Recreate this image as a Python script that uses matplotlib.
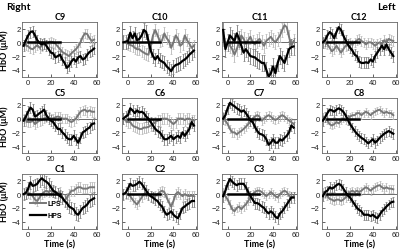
import numpy as np
import matplotlib
matplotlib.use('Agg')
import matplotlib.pyplot as plt

# time axis (s)
time = [-4, -2, 0, 2, 4, 6, 8, 10, 12, 14, 16, 18, 20, 22, 24, 26,
        28, 30, 32, 34, 36, 38, 40, 42, 44, 46, 48, 50, 52, 54, 56, 58]

titles = ['C9', 'C10', 'C11', 'C12',
          'C5', 'C6', 'C7', 'C8',
          'C1', 'C2', 'C3', 'C4']

# HbO (uM), high performers
hps = {
    'C9':  [-0.5, 0.3, 1.0, 1.5, 1.6, 1.0, 0.3, -0.1, -0.3, -0.1, -0.5, -1.0, -1.5, -1.6, -2.2, -2.0,
            -1.8, -2.5, -3.0, -3.7, -3.4, -2.8, -2.4, -2.8, -2.2, -2.0, -2.5, -2.3, -1.8, -1.4, -1.2, -0.9],
    'C10': [0.0, 0.1, 0.2, 1.4, 0.6, 1.3, 0.3, 0.5, 1.0, 1.8, 1.5, 0.2, -1.2, -2.0, -2.5, -2.0,
            -2.6, -2.8, -3.0, -3.5, -3.8, -4.2, -3.6, -3.3, -3.2, -3.0, -2.7, -2.5, -2.2, -1.8, -1.5, -1.2],
    'C11': [1.8, -1.0, 0.0, 1.0, 0.6, 0.2, 1.3, 0.5, -0.5, -1.5, -1.0, -1.5, -2.0, -2.1, -2.2, -2.5,
            -2.7, -3.0, -3.0, -4.0, -5.0, -4.5, -3.5, -4.5, -3.0, -2.0, -2.5, -3.0, -2.0, -1.0, -0.7, -0.6],
    'C12': [0.0, 0.3, 1.0, 1.5, 1.2, 0.6, 1.5, 2.2, 1.8, 1.0, 0.3, -0.3, -0.8, -1.2, -1.8, -2.0,
            -2.8, -3.0, -3.0, -2.9, -3.0, -2.5, -2.8, -2.0, -1.5, -1.0, -0.5, -1.0, -0.3, -1.0, -1.5, -2.0],
    'C5':  [-0.3, 0.3, 1.0, 1.6, 1.3, 0.3, 0.5, 0.8, 1.0, 1.3, 0.5, 0.0, -0.3, -0.5, -1.0, -1.5,
            -1.5, -2.0, -2.3, -2.8, -3.0, -3.0, -2.5, -3.0, -3.5, -2.8, -2.0, -1.8, -1.5, -1.3, -0.8, -0.7],
    'C6':  [0.0, 0.3, 0.5, 1.5, 1.2, 0.8, 1.2, 0.9, 1.0, 0.8, 0.3, 0.0, -0.5, -1.0, -1.5, -1.8,
            -2.0, -2.5, -3.0, -3.0, -2.8, -2.5, -3.0, -2.7, -2.5, -2.8, -2.0, -2.5, -2.0, -1.5, -0.5, -1.0],
    'C7':  [0.0, 0.5, 1.5, 2.3, 2.0, 1.8, 1.5, 1.3, 1.0, 1.2, 0.8, 0.3, -0.3, -0.5, -1.2, -1.8,
            -2.2, -2.3, -2.5, -3.0, -3.8, -3.5, -3.0, -3.5, -3.5, -3.0, -3.2, -2.8, -2.5, -2.0, -1.0, -1.3],
    'C8':  [-0.3, 0.2, 0.8, 1.3, 1.2, 1.0, 1.3, 1.5, 1.3, 1.0, 0.5, -0.2, -0.8, -1.3, -1.8, -2.2,
            -2.5, -2.8, -3.0, -3.3, -3.6, -3.3, -3.0, -3.5, -3.2, -2.8, -2.5, -2.2, -2.0, -1.8, -2.0, -2.2],
    'C1':  [0.0, 0.2, 0.8, 1.7, 1.2, 1.3, 1.5, 2.0, 2.3, 2.0, 1.8, 1.5, 1.0, 0.5, 0.3, 0.0,
            -0.3, -0.5, -1.0, -1.3, -1.8, -2.0, -2.2, -2.8, -3.0, -2.5, -2.0, -1.8, -1.5, -1.0, -0.8, -0.6],
    'C2':  [0.0, 0.2, 0.8, 1.5, 1.2, 1.3, 1.5, 1.8, 1.5, 1.0, 0.5, 0.0, -0.3, -0.5, -0.8, -1.0,
            -1.5, -1.8, -2.5, -3.0, -2.8, -2.5, -3.0, -3.3, -3.5, -2.8, -2.0, -1.8, -1.5, -1.3, -1.0, -1.0],
    'C3':  [-0.3, 0.5, 1.5, 2.2, 1.8, 1.5, 1.3, 1.5, 1.5, 1.5, 1.0, 0.3, -0.3, -0.8, -1.3, -1.3,
            -1.5, -1.8, -2.0, -2.5, -2.8, -2.5, -2.8, -3.3, -3.5, -2.8, -2.5, -2.0, -1.5, -1.0, -0.5, -0.5],
    'C4':  [-0.3, 0.3, 0.5, 1.0, 0.8, 1.0, 1.3, 1.5, 1.3, 0.8, 0.3, -0.2, -0.5, -1.0, -1.5, -2.0,
            -2.3, -2.5, -3.0, -3.0, -3.0, -3.2, -3.0, -3.3, -3.5, -3.0, -2.5, -2.2, -1.8, -1.5, -1.2, -1.1],
}

# HbO (uM), low performers
lps = {
    'C9':  [-0.3, -0.4, -0.6, -0.9, -1.0, -0.7, -0.4, -0.8, -0.5, -0.2, -0.3, 0.0, 0.1, 0.0, -0.2, -0.6,
            -1.0, -1.4, -1.6, -1.8, -2.0, -1.6, -1.3, -1.0, -0.6, 0.0, 0.8, 1.3, 1.2, 0.6, 0.2, 0.4],
    'C10': [0.0, -0.1, -0.2, -0.4, -0.5, -0.8, -1.0, -1.0, -1.3, -1.5, -1.7, -1.8, -0.5, 1.0, 1.8, 1.0,
            0.2, 0.3, 1.3, 0.6, 0.2, -0.8, 0.0, 1.0, 0.5, -0.5, -0.2, 1.0, 0.3, -0.2, -0.8, -0.5],
    'C11': [0.5, -0.3, 0.0, -0.5, -1.0, -1.8, -1.0, 0.0, 1.0, 0.5, -0.2, 0.3, 0.8, 0.0, -0.3, 0.2,
            0.5, 0.0, -0.5, 0.2, 0.5, 0.8, 0.3, 0.0, 0.5, 1.0, 1.8, 2.5, 2.2, 0.8, -0.5, 0.2],
    'C12': [0.0, -0.1, -0.3, -0.8, -1.3, -1.0, -0.5, -1.0, -1.5, -1.0, -0.5, -0.3, 0.0, -0.3, 0.0, 0.3,
            0.5, 0.2, 0.0, -0.3, 0.0, 0.0, -0.2, -0.5, -0.2, 0.0, -0.3, 0.3, 0.0, 0.5, 0.3, 0.2],
    'C5':  [0.0, -0.3, -0.5, -0.5, -0.3, -0.8, -0.5, -0.3, -0.2, 0.0, 0.2, 0.2, 0.0, 0.0, 0.2, 0.3,
            0.2, 0.0, 0.0, 0.0, -0.3, -0.5, -0.3, 0.0, 0.5, 1.0, 1.2, 1.3, 1.0, 1.2, 1.0, 1.0],
    'C6':  [0.0, -0.3, -0.5, -0.5, -1.0, -1.2, -1.3, -1.5, -1.5, -1.3, -1.3, -1.2, -1.0, -0.8, -0.5, -0.3,
            -0.2, 0.0, 0.0, 0.0, -0.2, -0.5, -0.8, -0.5, 0.0, 0.0, 0.0, -0.2, 0.0, 0.0, -0.2, -0.3],
    'C7':  [0.3, -0.3, -0.8, -1.5, -2.0, -2.0, -2.3, -2.0, -1.8, -1.5, -1.2, -0.8, -0.5, 0.0, 0.3, 0.5,
            0.3, -0.3, 0.0, 0.3, 0.5, 0.3, 0.0, -0.2, 0.0, 0.3, 0.5, 0.3, 0.0, -0.3, -0.5, -0.8],
    'C8':  [0.3, 0.0, -0.3, -0.8, -1.0, -0.8, -0.5, -0.7, -0.3, 0.0, -0.3, 0.0, 0.3, 0.5, 0.5, 0.8,
            0.8, 0.5, 0.8, 1.0, 0.8, 0.5, 0.8, 1.0, 1.2, 1.3, 1.0, 0.8, 1.0, 0.8, 0.8, 0.5],
    'C1':  [0.0, 0.0, 0.2, 0.0, -0.3, -0.8, -1.0, -0.5, 0.0, 0.3, 0.5, 0.3, 0.5, 0.3, 0.3, 0.2,
            0.3, -0.5, -1.0, -0.5, 0.0, 0.5, 0.5, 0.8, 1.0, 1.0, 0.8, 0.8, 0.8, 1.0, 1.0, 1.0],
    'C2':  [0.0, 0.0, 0.0, -0.3, -0.8, -1.2, -1.5, -1.0, -0.5, 0.0, 0.2, 0.0, -0.3, -0.5, -0.3, 0.0,
            0.3, 0.5, 0.3, -0.5, -1.2, -1.8, -1.0, 0.0, 0.3, 0.0, -0.3, 0.0, -0.2, -0.3, -0.2, -0.3],
    'C3':  [0.3, -0.3, -0.8, -1.5, -2.2, -2.5, -2.0, -1.8, -2.2, -1.8, -1.5, -1.0, -0.5, 0.0, 0.3, 0.5,
            0.5, 0.3, 0.0, -0.3, 0.0, 0.3, 0.0, -0.3, -0.5, 0.0, 0.3, 0.5, 0.3, -0.2, -0.5, -0.3],
    'C4':  [0.3, 0.0, -0.3, -0.7, -0.8, -1.0, -0.8, -0.8, -1.0, -0.8, -0.5, 0.0, 0.3, 0.5, 0.3, 0.5,
            0.3, 0.5, 0.8, 1.0, 0.8, 0.5, 0.8, 1.0, 1.2, 1.3, 1.0, 0.8, 1.0, 0.8, 0.8, 0.7],
}

# standard error (uM), per channel
hps_err = {'C9': 0.8, 'C10': 1.0, 'C11': 1.2, 'C12': 0.8, 'C5': 0.8, 'C6': 0.8,
           'C7': 0.8, 'C8': 0.7, 'C1': 0.9, 'C2': 0.8, 'C3': 0.8, 'C4': 0.7}
lps_err = {'C9': 0.7, 'C10': 0.9, 'C11': 1.0, 'C12': 0.7, 'C5': 0.7, 'C6': 0.8,
           'C7': 0.6, 'C8': 0.5, 'C1': 0.7, 'C2': 0.7, 'C3': 0.6, 'C4': 0.6}

stim_on, stim_off = 0, 28

W, H = 402, 253
fig = plt.figure(figsize=(W / 100, H / 100), dpi=100)

lefts = [22.5, 122.3, 222, 321.7]
tops = [22.7, 99, 174.5]
aw, ah = 75, 55

tfont = dict(family='Lato', weight='bold', size=6.5)

for i, name in enumerate(titles):
    r, c = divmod(i, 4)
    ax = fig.add_axes([lefts[c] / W, 1 - (tops[r] + ah) / H, aw / W, ah / H])
    ax.axhline(0, color='#555555', lw=0.6, zorder=1)
    ax.errorbar(time, lps[name], yerr=lps_err[name], fmt='none', ecolor='#b8b8b8',
                elinewidth=0.6, capsize=0.8, capthick=0.5, zorder=2)
    ax.errorbar(time, hps[name], yerr=hps_err[name], fmt='none', ecolor='#7a7a7a',
                elinewidth=0.6, capsize=0.8, capthick=0.5, zorder=3)
    ax.plot(time, lps[name], color='#777777', lw=1.4, zorder=4, label='LPS')
    ax.plot(time, hps[name], color='black', lw=1.6, zorder=5, label='HPS')
    ax.plot([stim_on, stim_off], [0, 0], color='black', lw=1.8, zorder=6)
    ax.set_xlim(-5, 61)
    ax.set_ylim(-5, 3)
    ax.set_xticks([0, 20, 40, 60])
    ax.set_yticks([-4, -2, 0, 2])
    ax.tick_params(direction='in', length=2, width=0.5, labelsize=5.5, pad=1.5,
                   colors='#222222')
    for lab in ax.get_xticklabels() + ax.get_yticklabels():
        lab.set_family('Liberation Sans')
    for s in ax.spines.values():
        s.set_linewidth(0.6)
        s.set_color('#666666')
    ax.set_title(name, pad=2, **tfont)
    if c == 0:
        ax.set_ylabel('HbO (\u03bcM)', labelpad=2, **tfont)
    if r == 2:
        ax.set_xlabel('Time (s)', labelpad=1, **tfont)
    if name == 'C1':
        leg = ax.legend(loc='lower left', bbox_to_anchor=(0.02, 0.05), frameon=False,
                        handlelength=2.2, handletextpad=0.3, labelspacing=0.8,
                        prop=dict(family='Liberation Sans', weight='bold', size=5))

fig.text(6 / W, 1 - 8 / H, 'Right', ha='left', va='center', family='Lato',
         weight='bold', size=7.5)
fig.text(396 / W, 1 - 8 / H, 'Left', ha='right', va='center', family='Lato',
         weight='bold', size=7.5)

fig.savefig('out.png', dpi=100)
